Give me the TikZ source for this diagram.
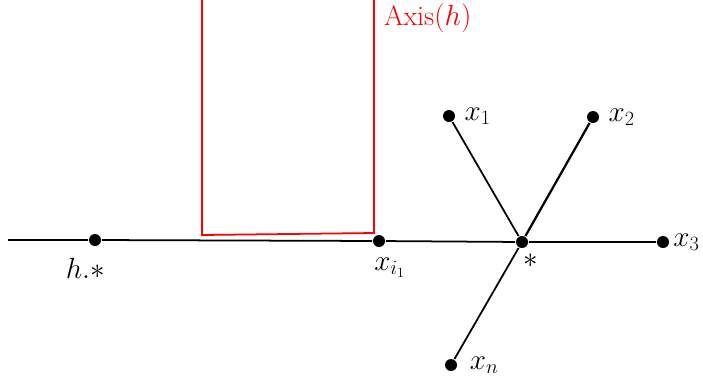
\documentclass[tikz,border=0pt]{standalone}
\usepackage{amsmath}
\usepackage{xcolor}
\usepackage{tikz}
\usetikzlibrary{positioning}

\begin{document}
\begin{tikzpicture}[
          x=0.03cm, y=-0.03cm,
          pt/.style={circle, fill, inner sep=0pt, minimum size=0.36cm},
          lbl/.style={font=\fontsize{24}{28}\selectfont, inner sep=1pt},
          line width=1.5pt
        ]
          \useasboundingbox (0,0) rectangle (703,382);

          \coordinate (left) at (8,240);
          \node[pt] (h) at (95,240) {};
          \node[pt] (xi1) at (379,241) {};
          \node[pt] (star) at (522,242) {};
          \node[pt] (x3) at (663,242) {};
          \node[pt] (x1) at (449,116) {};
          \node[pt] (x2) at (593,117) {};
          \node[pt] (xn) at (451,365) {};

          \draw (left) -- (h) -- (xi1) -- (star) -- (x3);
          \draw (star) -- (x1);
          \draw[line width=1.9pt] (star) -- (x2);
          \draw (star) -- (xn);

          % the axis
          \coordinate (a1) at (202,0);
          \coordinate (a2) at (202,235);
          \coordinate (a3) at (374,233);
          \coordinate (a4) at (374,0);
          \draw[red] (a1) -- (a2) -- (a3) -- (a4);
          \node[lbl, red, anchor=north west] (axis) at (382,2) {Axis$(h)$};

          \node[lbl, below left=0.35cm and -0.5cm of h] {$h.{*}$};
          \node[lbl, below right=0.3cm and -0.35cm of xi1] {$x_{i_1}$};
          \node[lbl, below right=0.15cm and -0.15cm of star] {$*$};
          \node[lbl, right=0.2cm of x1] {$x_1$};
          \node[lbl, right=0.2cm of x2] {$x_2$};
          \node[lbl, inner sep=0pt, right=0.08cm of x3] {$x_3$};
          \node[lbl, right=0.3cm of xn] {$x_n$};
        \end{tikzpicture}
\end{document}
